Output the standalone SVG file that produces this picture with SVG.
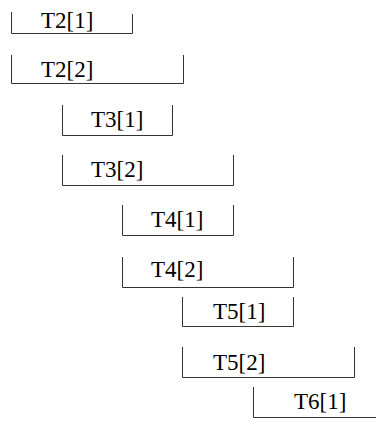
<svg xmlns="http://www.w3.org/2000/svg" width="376" height="428" viewBox="0 0 376 428">
  <style>
    .bar { fill: none; stroke: #333; stroke-width: 1; }
    .lbl { font-family: "Liberation Serif", "Times New Roman", serif; font-size: 23px; fill: #000; }
  </style>
  <rect width="376" height="428" fill="#fff"/>
  <g id="T2_1">
    <path class="bar" d="M11.5 12 V33.5 H132.5 V14"/>
    <text class="lbl" x="41" y="28">T2[1]</text>
  </g>
  <g id="T2_2">
    <path class="bar" d="M11.5 55 V83.5 H183.5 V55"/>
    <text class="lbl" x="41" y="77">T2[2]</text>
  </g>
  <g id="T3_1">
    <path class="bar" d="M62.5 105 V135.5 H172.5 V105"/>
    <text class="lbl" x="91" y="127">T3[1]</text>
  </g>
  <g id="T3_2">
    <path class="bar" d="M62.5 155 V185.5 H233.5 V155"/>
    <text class="lbl" x="91" y="177">T3[2]</text>
  </g>
  <g id="T4_1">
    <path class="bar" d="M122.5 205 V235.5 H233.5 V205"/>
    <text class="lbl" x="151" y="227">T4[1]</text>
  </g>
  <g id="T4_2">
    <path class="bar" d="M122.5 257 V287.5 H293.5 V257"/>
    <text class="lbl" x="151" y="277">T4[2]</text>
  </g>
  <g id="T5_1">
    <path class="bar" d="M182.5 297 V326.5 H293.5 V297"/>
    <text class="lbl" x="213" y="319">T5[1]</text>
  </g>
  <g id="T5_2">
    <path class="bar" d="M182.5 347 V377.5 H354.5 V347"/>
    <text class="lbl" x="213" y="370">T5[2]</text>
  </g>
  <g id="T6_1">
    <path class="bar" d="M253.5 387 V417.5 H380"/>
    <text class="lbl" x="294" y="409">T6[1]</text>
  </g>
  <g id="connectors"/>
</svg>
